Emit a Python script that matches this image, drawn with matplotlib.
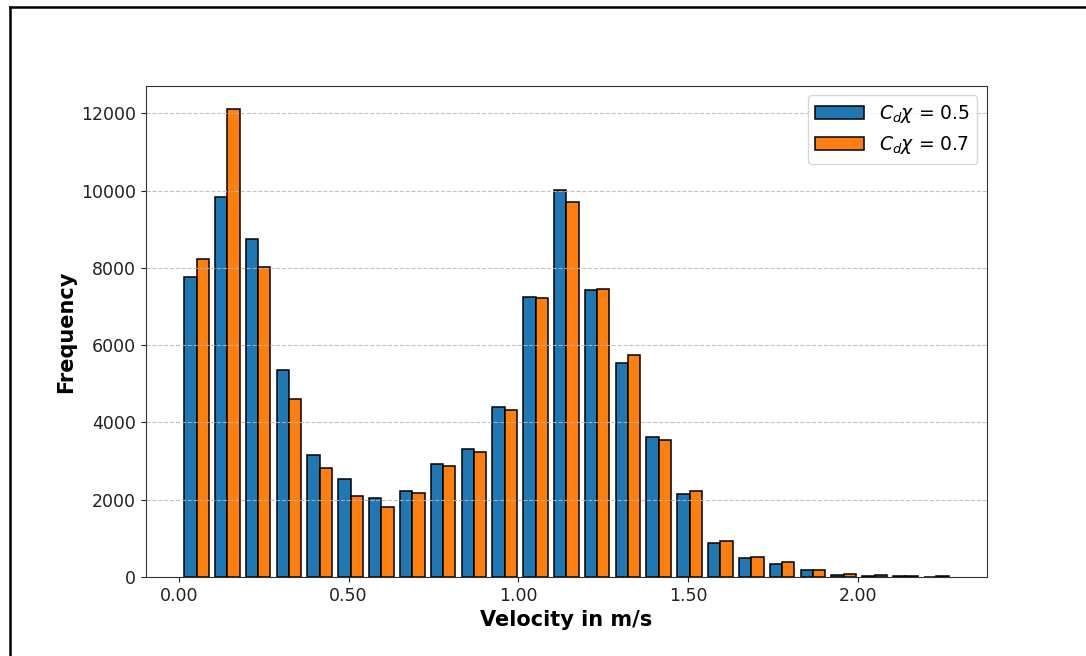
import numpy as np
import matplotlib
matplotlib.use("Agg")
import matplotlib.pyplot as plt
from matplotlib.lines import Line2D

# Velocity histogram: 25 equal bins between the min and max sampled speed
v_min = 0.0066
v_max = 2.277
n_bins = 25

counts_05 = [7756, 9842, 8739, 5357, 3157, 2528, 2036, 2226, 2924, 3313,
             4408, 7255, 10016, 7427, 5547, 3632, 2148, 889, 500, 336,
             181, 60, 30, 20, 8]
counts_07 = [8222, 12103, 8031, 4598, 2830, 2096, 1803, 2165, 2873, 3244,
             4322, 7212, 9705, 7453, 5745, 3545, 2235, 932, 518, 380,
             181, 86, 52, 30, 18]
labels = [r"$C_d\chi$ = 0.5", r"$C_d\chi$ = 0.7"]
xticks = [0.0, 0.5, 1.0, 1.5, 2.0]

edges = np.linspace(v_min, v_max, n_bins + 1)
centers = 0.5 * (edges[:-1] + edges[1:])

fig = plt.figure(figsize=(10.86, 6.56), dpi=100)
ax = fig.add_axes([0.1344, 0.1204, 0.9086 - 0.1344, 0.869 - 0.1204])

ax.hist([centers, centers], bins=edges, weights=[counts_05, counts_07],
        color=["#1f77b4", "#ff7f0e"], edgecolor="black", linewidth=1.1,
        label=labels)

ax.set_axisbelow(False)
ax.yaxis.grid(True, linestyle="--", color="#b8b8b8", linewidth=0.8, alpha=0.85)
ax.set_xticks(xticks)
ax.set_xticklabels([f"{t:.2f}" for t in xticks])
ax.tick_params(labelsize=12.5, colors="#222222")
for sp in ax.spines.values():
    sp.set_color("#333333")
ax.set_xlabel("Velocity in m/s", fontsize=15, fontweight="bold")
ax.set_ylabel("Frequency", fontsize=15, fontweight="bold")
ax.legend(loc="upper right", fontsize=13.5, handlelength=2.6)

# thin frame along the top and left of the figure
fig.add_artist(Line2D([10 / 1086, 10 / 1086], [0, 1 - 7 / 656],
                      transform=fig.transFigure, color="black", linewidth=1.8))
fig.add_artist(Line2D([10 / 1086, 1], [1 - 7 / 656, 1 - 7 / 656],
                      transform=fig.transFigure, color="black", linewidth=1.8))

fig.savefig("out.png", dpi=100)
